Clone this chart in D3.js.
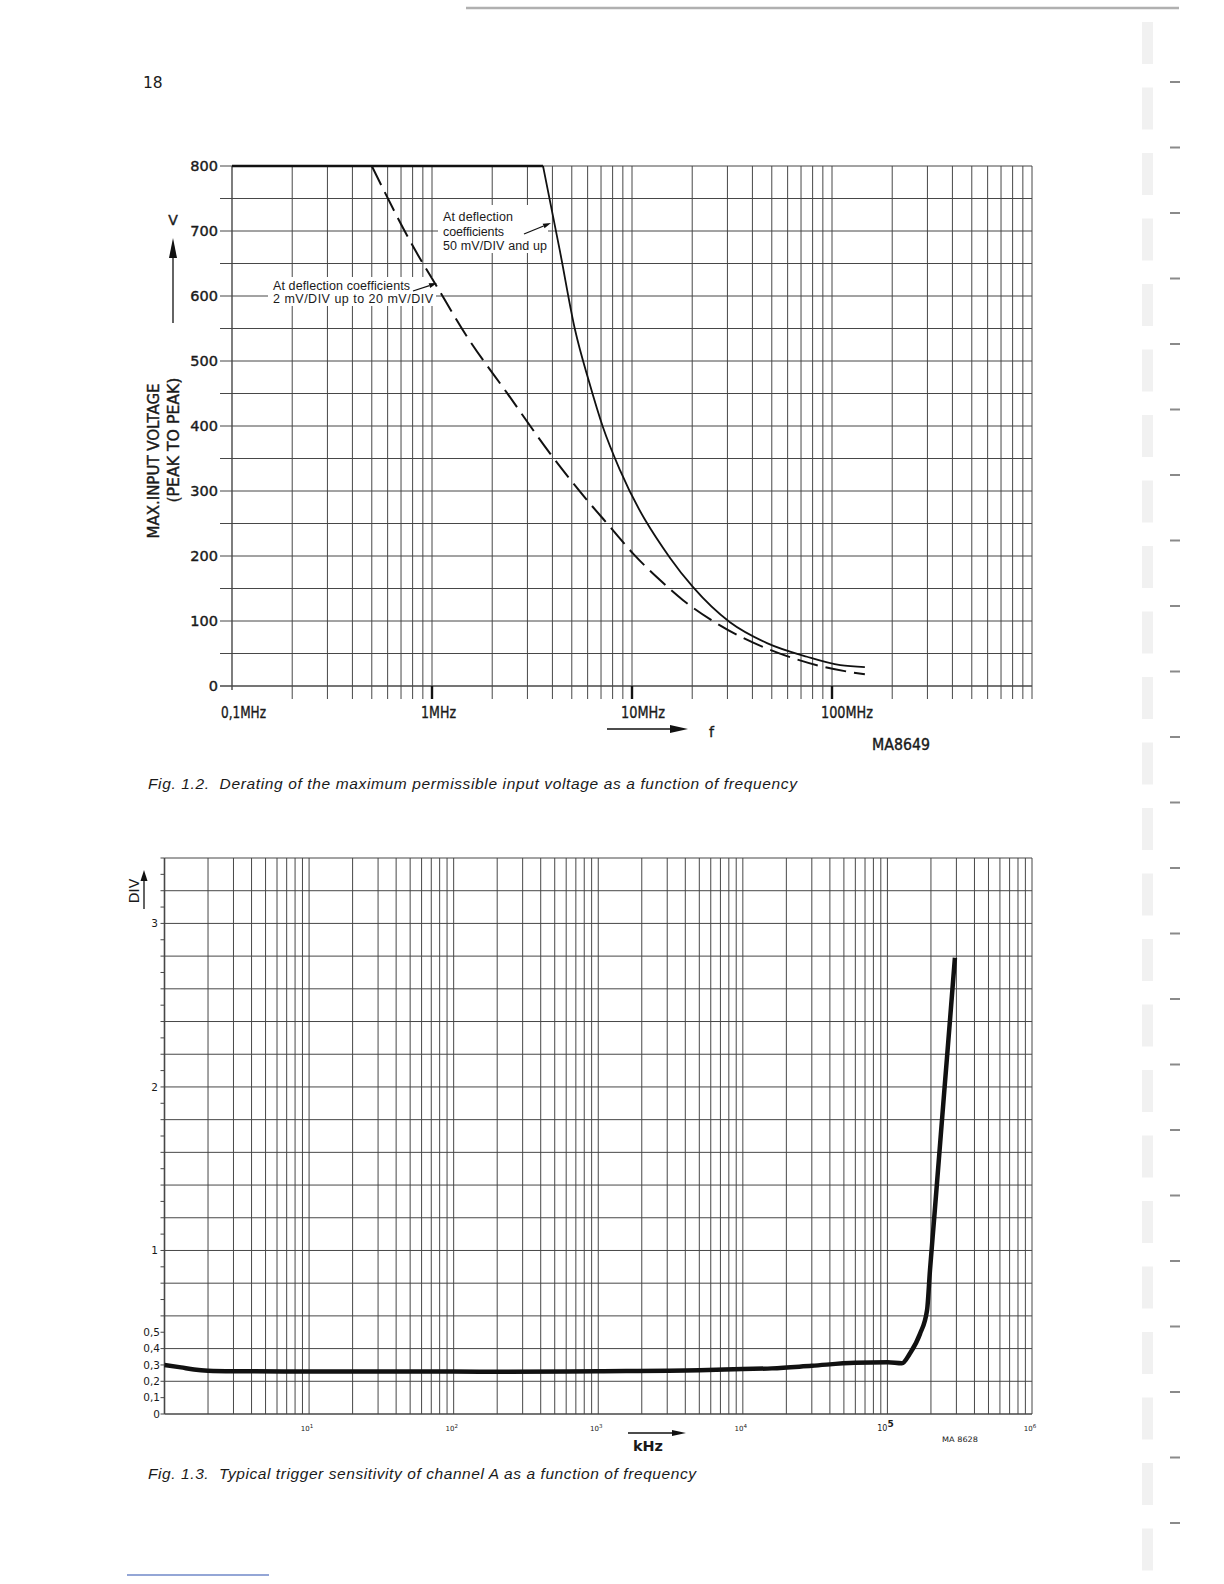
<!DOCTYPE html>
<html>
<head>
<meta charset="utf-8">
<script src="https://cdn.jsdelivr.net/npm/d3@7"></script>
<style>
  html, body { margin: 0; padding: 0; background: #fff; }
  svg { display: block; }
  text { font-family: "DejaVu Sans", sans-serif; fill: #1a1a1a; }
  .cap { font-family: "Liberation Sans", Arial, sans-serif; font-style: italic; white-space: pre; }
  .ann { font-family: "Liberation Sans", Arial, sans-serif; font-size: 12.5px; }
  .heavy { stroke: #1a1a1a; stroke-width: 0.4px; }
</style>
</head>
<body>
<svg id="page" width="1224" height="1584"></svg>
<script>
'use strict';

// ── Fig. 1.2 data: frequency (MHz) → max input voltage (V p-p) ──
const SOLID_F  = [0.1, 3.59, 4.35, 5.19, 6.10, 7.16, 8.71, 15.5, 20.2, 30.9, 47.3, 75, 110, 146];
const SOLID_V  = [800, 800, 671, 548, 468, 398, 332, 197, 152, 98, 66, 45, 32, 29];
const DASH_F   = [0.5, 0.822, 1.06, 1.5, 2.37, 3.89, 5.96, 7.76, 10.1, 13.8, 18, 26, 35.9, 53.7, 92, 146];
const DASH_V   = [800, 671, 614, 537, 451, 358, 286, 245, 204, 163, 132, 98, 74, 51, 29, 18];
const V_TICKS  = [0, 100, 200, 300, 400, 500, 600, 700, 800];
const F_TICKS  = [0.1, 1, 10, 100];
const F_LABELS = ['0,1MHz', '1MHz', '10MHz', '100MHz'];

// ── Fig. 1.3 data: frequency (kHz) → trigger sensitivity (DIV) ──
const TRIG_F = [1, 1.3, 1.6, 2, 3, 10, 100, 226, 1000, 5000, 10000, 15900, 30000, 59500, 100700,
                126000, 143000, 168000, 188000, 197000, 210700, 228900, 248700, 270400, 293000];
const TRIG_V = [0.30, 0.285, 0.272, 0.265, 0.262, 0.26, 0.26, 0.258, 0.262, 0.268, 0.275, 0.279, 0.295, 0.313, 0.316,
                0.31, 0.37, 0.49, 0.635, 0.88, 1.2, 1.6, 2.0, 2.4, 2.79];
const DIV_TICKS  = [0, 0.1, 0.2, 0.3, 0.4, 0.5, 1, 2, 3];
const DIV_LABELS = ['0', '0,1', '0,2', '0,3', '0,4', '0,5', '1', '2', '3'];
const KHZ_EXP    = [1, 2, 3, 4, 5, 6];

const GRID = '#474747';
const INK  = '#111';

const svg = d3.select('#page');

// ── helpers ─────────────────────────────────────────────────
function logGrid(lo, hi) {
  const out = [];
  for (let e = Math.floor(Math.log10(lo)); Math.pow(10, e) <= hi * 1.001; e++) {
    for (let m = 1; m < 10; m++) {
      const v = +(m * Math.pow(10, e)).toPrecision(6);
      if (v >= lo * 0.999 && v <= hi * 1.001) out.push(v);
    }
  }
  return out;
}

function arrow(g, x1, y1, x2, y2, len, w) {
  const a = Math.atan2(y2 - y1, x2 - x1);
  const bx = x2 - len * Math.cos(a), by = y2 - len * Math.sin(a);
  const nx = -Math.sin(a) * w / 2, ny = Math.cos(a) * w / 2;
  g.append('line').attr('x1', x1).attr('y1', y1).attr('x2', bx).attr('y2', by)
    .attr('stroke', INK).attr('stroke-width', 1.3);
  g.append('polygon')
    .attr('points', `${x2},${y2} ${bx + nx},${by + ny} ${bx - nx},${by - ny}`)
    .attr('fill', INK);
}

function squeeze(sel, w, mode) {
  return sel.attr('textLength', w).attr('lengthAdjust', mode || 'spacingAndGlyphs');
}

// ── page furniture ──────────────────────────────────────────
svg.append('line').attr('x1', 466).attr('y1', 8).attr('x2', 1179).attr('y2', 8)
  .attr('stroke', '#b0b0b0').attr('stroke-width', 2.5);
svg.append('text').attr('x', 143).attr('y', 88).attr('font-size', 15.5).text('18');
svg.append('line').attr('x1', 127).attr('y1', 1575).attr('x2', 269).attr('y2', 1575)
  .attr('stroke', '#7088c8').attr('stroke-width', 1.5);

// binder marks at the right edge
const binder = svg.append('g');
d3.range(24).forEach(i => {
  const y = 82 + i * 65.5;
  binder.append('rect').attr('x', 1142).attr('y', y - 60).attr('width', 11).attr('height', 42)
    .attr('fill', '#f1f1f1');
  binder.append('line').attr('x1', 1170).attr('y1', y).attr('x2', 1180).attr('y2', y)
    .attr('stroke', '#8a8a8a').attr('stroke-width', 2);
});

// ── Fig. 1.2 ────────────────────────────────────────────────
function drawFig2() {
  const L = 232, R = 1032, T = 166, B = 686;
  const x = d3.scaleLog().domain([0.1, 1000]).range([L, R]);
  const y = d3.scaleLinear().domain([0, 800]).range([B, T]);
  const g = svg.append('g');

  // horizontal grid every 50 V
  g.append('g').selectAll('line').data(d3.range(0, 801, 50)).join('line')
    .attr('x1', 220).attr('x2', R)
    .attr('y1', d => y(d)).attr('y2', d => y(d))
    .attr('stroke', GRID).attr('stroke-width', d => d === 0 ? 1.4 : 1);

  // vertical log grid
  g.append('g').selectAll('line').data(logGrid(0.1, 1000)).join('line')
    .attr('x1', d => x(d)).attr('x2', d => x(d))
    .attr('y1', T).attr('y2', d => d === 0.1 ? B + 4 : B + 13)
    .attr('stroke', GRID).attr('stroke-width', d => d === 0.1 ? 1.4 : 1);

  // heavier decade ticks below the axis
  g.append('g').selectAll('line').data(F_TICKS.slice(1)).join('line')
    .attr('x1', d => x(d)).attr('x2', d => x(d))
    .attr('y1', B).attr('y2', B + 13)
    .attr('stroke', INK).attr('stroke-width', 2.4);

  // y tick labels
  g.append('g').selectAll('text').data(V_TICKS).join('text')
    .attr('class', 'heavy')
    .attr('x', 218).attr('y', d => y(d)).attr('dy', '0.36em')
    .attr('text-anchor', 'end').attr('font-size', 14.5)
    .text(d => d);

  // x tick labels
  const fw = [45, 35, 44, 52];
  g.append('g').selectAll('text').data(F_TICKS).join('text')
    .attr('class', 'heavy')
    .attr('x', d => x(d) - 11).attr('y', 718)
    .attr('font-family', '"Liberation Sans", Arial, sans-serif').attr('font-size', 16.5)
    .each(function (d, i) { squeeze(d3.select(this), fw[i]); })
    .text((d, i) => F_LABELS[i]);

  // y axis title + arrow
  squeeze(g.append('text').attr('class', 'heavy').attr('transform', 'translate(154,461) rotate(-90)')
    .attr('text-anchor', 'middle').attr('dominant-baseline', 'central')
    .attr('font-size', 15.5).text('MAX.INPUT  VOLTAGE'), 155);
  squeeze(g.append('text').attr('class', 'heavy').attr('transform', 'translate(174,440) rotate(-90)')
    .attr('text-anchor', 'middle').attr('dominant-baseline', 'central')
    .attr('font-size', 15.5).text('(PEAK TO PEAK)'), 125);
  arrow(g, 173, 323, 173, 238, 20, 8);
  g.append('text').attr('class', 'heavy').attr('x', 173).attr('y', 225).attr('text-anchor', 'middle')
    .attr('font-size', 14).text('V');

  // f arrow, drawing number
  arrow(g, 607, 729, 688, 729, 18, 8);
  g.append('text').attr('class', 'heavy').attr('x', 709).attr('y', 737).attr('font-size', 14).text('f');
  squeeze(g.append('text').attr('class', 'heavy').attr('x', 872).attr('y', 750)
    .attr('font-size', 15).text('MA8649'), 58);

  // annotation backgrounds and texts
  g.append('rect').attr('x', 438).attr('y', 205).attr('width', 110).attr('height', 48).attr('fill', '#fff');
  g.append('rect').attr('x', 268).attr('y', 277).attr('width', 168).attr('height', 29).attr('fill', '#fff');

  const a1 = g.append('text').attr('class', 'ann');
  squeeze(a1.append('tspan').attr('x', 443).attr('y', 221).text('At deflection'), 70, 'spacing');
  squeeze(a1.append('tspan').attr('x', 443).attr('y', 236).text('coefficients'), 61, 'spacing');
  squeeze(a1.append('tspan').attr('x', 443).attr('y', 250).text('50 mV/DIV and up'), 104, 'spacing');
  arrow(g, 524, 234, 551, 223, 8, 5);

  const a2 = g.append('text').attr('class', 'ann');
  squeeze(a2.append('tspan').attr('x', 273).attr('y', 290).text('At deflection coefficients'), 137, 'spacing');
  squeeze(a2.append('tspan').attr('x', 273).attr('y', 303).text('2 mV/DIV up to 20 mV/DIV'), 160, 'spacing');
  arrow(g, 413, 291, 437, 283, 8, 5);

  // curves
  const solid = d3.zip(SOLID_F, SOLID_V);
  const dash  = d3.zip(DASH_F, DASH_V);
  const flat  = d3.line().x(d => x(d[0])).y(d => y(d[1]));
  const bend  = d3.line().x(d => x(d[0])).y(d => y(d[1])).curve(d3.curveMonotoneX);

  g.append('path').attr('d', flat(solid.slice(0, 2)))
    .attr('fill', 'none').attr('stroke', INK).attr('stroke-width', 2.6);
  g.append('path').attr('d', bend(solid.slice(1)))
    .attr('fill', 'none').attr('stroke', INK).attr('stroke-width', 1.8);
  g.append('path').attr('d', bend(dash))
    .attr('fill', 'none').attr('stroke', INK).attr('stroke-width', 2)
    .attr('stroke-dasharray', '21,8');

  svg.append('text').attr('class', 'cap').attr('x', 148).attr('y', 789).attr('font-size', 15.5)
    .call(s => squeeze(s, 649, 'spacing'))
    .text('Fig. 1.2.  Derating of the maximum permissible input voltage as a function of frequency');
}

// ── Fig. 1.3 ────────────────────────────────────────────────
function drawFig3() {
  const L = 164.5, R = 1032, T = 858, B = 1414;
  const x = d3.scaleLog().domain([1, 1e6]).range([L, R]);
  const y = d3.scaleLinear().domain([0, 3.4]).range([B, T]);
  const g = svg.append('g');

  g.append('g').selectAll('line').data(d3.range(0, 18).map(i => i * 0.2)).join('line')
    .attr('x1', L).attr('x2', R)
    .attr('y1', d => y(d)).attr('y2', d => y(d))
    .attr('stroke', GRID).attr('stroke-width', d => d === 0 ? 1.6 : 1);

  g.append('g').selectAll('line').data(logGrid(1, 1e6)).join('line')
    .attr('x1', d => x(d)).attr('x2', d => x(d))
    .attr('y1', T).attr('y2', B)
    .attr('stroke', GRID).attr('stroke-width', d => d === 1 ? 1.6 : 1);

  // left ticks every 0.1
  g.append('g').selectAll('line').data(d3.range(0, 35).map(i => i * 0.1)).join('line')
    .attr('x1', L - 4).attr('x2', L)
    .attr('y1', d => y(d)).attr('y2', d => y(d))
    .attr('stroke', GRID).attr('stroke-width', 1);

  g.append('g').selectAll('text').data(DIV_TICKS).join('text')
    .attr('x', (d, i) => i < 6 ? 160 : 158).attr('y', d => y(d)).attr('dy', '0.36em')
    .attr('text-anchor', 'end').attr('font-size', 10.5)
    .attr('font-family', '"Liberation Sans", Arial, sans-serif')
    .text((d, i) => DIV_LABELS[i]);

  // DIV title + arrow
  g.append('text').attr('transform', 'translate(139,891) rotate(-90)')
    .attr('text-anchor', 'middle').attr('font-size', 14).text('DIV');
  arrow(g, 144, 909, 144, 870, 11, 7);

  // decade labels
  g.append('g').selectAll('text').data(KHZ_EXP).join('text')
    .attr('x', d => x(Math.pow(10, d)) - 2).attr('y', 1431)
    .attr('text-anchor', 'middle').attr('font-size', d => d === 5 ? 8 : 7)
    .each(function (d) {
      const t = d3.select(this);
      t.append('tspan').text('10');
      t.append('tspan').attr('font-size', d === 5 ? 9 : 5.5)
        .attr('font-weight', d === 5 ? 'bold' : 'normal')
        .attr('dy', d === 5 ? -4 : -3).text(d);
    });

  arrow(g, 628, 1433, 686, 1433, 14, 6);
  squeeze(g.append('text').attr('x', 633).attr('y', 1451).attr('font-size', 14)
    .attr('font-weight', 'bold').text('kHz'), 30);
  squeeze(g.append('text').attr('x', 942).attr('y', 1442).attr('font-size', 7.5)
    .text('MA 8628'), 36);

  const line = d3.line().x(d => x(d[0])).y(d => y(d[1])).curve(d3.curveMonotoneX);
  g.append('path').attr('d', line(d3.zip(TRIG_F, TRIG_V)))
    .attr('fill', 'none').attr('stroke', INK).attr('stroke-width', 4.5)
    .attr('stroke-linejoin', 'round');

  svg.append('text').attr('class', 'cap').attr('x', 148).attr('y', 1479).attr('font-size', 15.5)
    .call(s => squeeze(s, 548, 'spacing'))
    .text('Fig. 1.3.  Typical trigger sensitivity of channel A as a function of frequency');
}

drawFig2();
drawFig3();
</script>
</body>
</html>
